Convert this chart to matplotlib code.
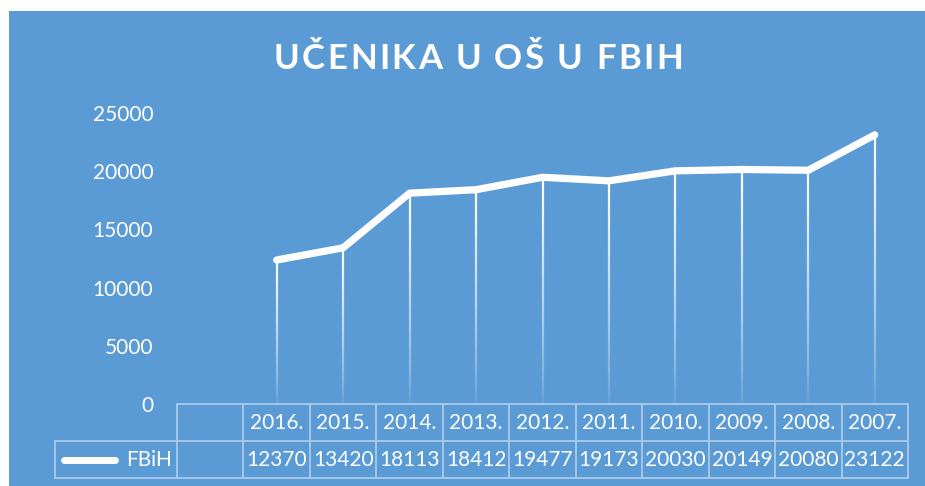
import matplotlib
matplotlib.use("Agg")
import matplotlib.pyplot as plt
import numpy as np
from matplotlib.patches import Rectangle
from matplotlib.collections import LineCollection
from matplotlib.lines import Line2D

title = "UČENIKA U OŠ U FBIH"
series_name = "FBiH"
categories = ["", "2016.", "2015.", "2014.", "2013.", "2012.", "2011.", "2010.", "2009.", "2008.", "2007."]
values = [None, 12370, 13420, 18113, 18412, 19477, 19173, 20030, 20149, 20080, 23122]
yticks = [0, 5000, 10000, 15000, 20000, 25000]

BG = "#5B9BD5"
GRID = "#A9C9EA"
FONT = "Lato"

W, H = 925, 486
fig = plt.figure(figsize=(W / 100, H / 100), dpi=100, facecolor="white")
fig.patches.append(Rectangle((9 / W, 0), 1 - 9 / W, 1 - 11 / H, transform=fig.transFigure,
                             facecolor=BG, edgecolor="none", zorder=-10))

x0, x1 = 177, 908
y0, y1 = 404, 113
ax = fig.add_axes([x0 / W, 1 - y0 / H, (x1 - x0) / W, (y0 - y1) / H])
ax.set_facecolor("none")
n = len(categories)
ax.set_xlim(-0.5, n - 0.5)
ax.set_ylim(0, 25000)
for s in ax.spines.values():
    s.set_visible(False)
ax.set_xticks([])
ax.set_yticks(yticks)
ax.set_yticklabels([str(v) for v in yticks], fontsize=15, color="white", family=FONT)
ax.tick_params(axis="y", length=0, pad=17)

xs = [i for i, v in enumerate(values) if v is not None]
ys = [v for v in values if v is not None]

# drop lines with fading gradient
segs, cols = [], []
nseg = 60
for xi, yi in zip(xs, ys):
    edges = np.linspace(0, yi, nseg + 1)
    for k in range(nseg):
        segs.append([(xi, edges[k]), (xi, edges[k + 1])])
        a = 0.06 + 0.94 * (k / (nseg - 1)) ** 0.8
        cols.append((1, 1, 1, a))
ax.add_collection(LineCollection(segs, colors=cols, linewidths=1.6, capstyle="butt", zorder=2))

ax.plot(xs, ys, color="white", lw=5.2, solid_capstyle="round", solid_joinstyle="round", zorder=3)

# data table
tr = ax.get_xaxis_transform()
px_per_cat = (x1 - x0) / n
left_label = -0.5 - (x0 - 55) / px_per_cat
r0, r1, r2 = 0, -(441 - 404) / (y0 - y1), -(478 - 404) / (y0 - y1)
lkw = dict(color=GRID, lw=1.3, transform=tr, clip_on=False, zorder=1)
ax.add_line(Line2D([-0.5, n - 0.5], [r0, r0], **lkw))
ax.add_line(Line2D([left_label, n - 0.5], [r1, r1], **lkw))
ax.add_line(Line2D([left_label, n - 0.5], [r2, r2], **lkw))
for b in np.arange(-0.5, n, 1.0):
    ax.add_line(Line2D([b, b], [r0, r2], **lkw))
ax.add_line(Line2D([left_label, left_label], [r1, r2], **lkw))

for i, c in enumerate(categories):
    ax.text(i, (r0 + r1) / 2, c, transform=tr, ha="center", va="center",
            fontsize=15, color="white", family=FONT)
    if values[i] is not None:
        ax.text(i, (r1 + r2) / 2, str(values[i]), transform=tr, ha="center", va="center",
                fontsize=15, color="white", family=FONT)

# legend key
ly = (r1 + r2) / 2
lx_a = -0.5 - (x0 - 64) / px_per_cat
lx_b = -0.5 - (x0 - 115) / px_per_cat
ax.add_line(Line2D([lx_a, lx_b], [ly, ly], color="white", lw=5, solid_capstyle="round",
                   transform=tr, clip_on=False))
ax.text(-0.5 - (x0 - 126) / px_per_cat, ly, series_name, transform=tr, ha="left", va="center",
        fontsize=15, color="white", family=FONT)

# title with letter spacing
spacing = 1.7
t = fig.text(274 / W, 1 - 59 / H, title[0], fontsize=25, fontweight="bold", color="white",
             family=FONT, ha="left", va="center")
prev = t
for ch in title[1:]:
    prev = ax.annotate(
        ch, xy=(1, 0.5), xycoords=prev, xytext=(spacing, 0), textcoords="offset points",
        fontsize=25, fontweight="bold", color="white", family=FONT, ha="left", va="center",
        annotation_clip=False)

fig.savefig("out.png", dpi=100, facecolor=fig.get_facecolor())
